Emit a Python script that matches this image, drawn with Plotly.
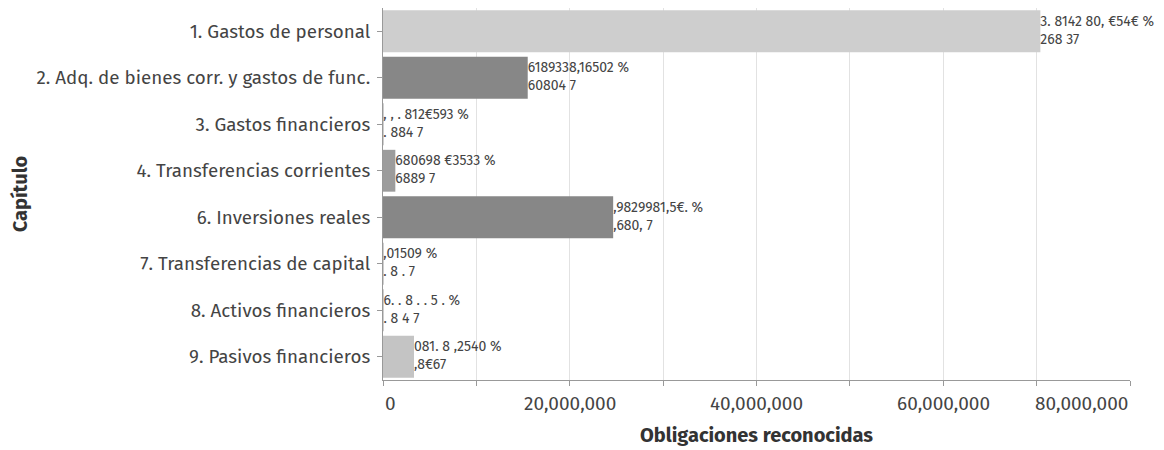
import plotly.graph_objects as go

categories = [
    "1. Gastos de personal",
    "2. Adq. de bienes corr. y gastos de func.",
    "3. Gastos financieros",
    "4. Transferencias corrientes",
    "6. Inversiones reales",
    "7. Transferencias de capital",
    "8. Activos financieros",
    "9. Pasivos financieros",
]
obligaciones = [70400000, 15500000, 40000, 1320000, 24650000, 20000, 60000, 3320000]
label_line1 = [
    "3. 8142 80, €54€ %",
    "6189338,16502 %",
    ", , . 812€593 %",
    "680698 €3533 %",
    ",9829981,5€. %",
    ",01509 %",
    "6. . 8 . . 5 . %",
    "081. 8 ,2540 %",
]
label_line2 = ["268 37", "60804 7", ". 884 7", "6889 7", ",680, 7", ". 8 . 7", ". 8 4 7", ",8€67"]
bar_colors = ["#cecece", "#878787", "#cecece", "#9c9c9c", "#878787", "#cecece", "#cecece", "#c4c4c4"]
tick_values = [0, 10000000, 20000000, 30000000, 40000000, 50000000, 60000000, 70000000, 80000000]
tick_labels = ["0", "", "20,000,000", "", "40,000,000", "", "60,000,000", "", "80,000,000"]

FONT = "Fira Sans, Open Sans, sans-serif"

fig = go.Figure()
fig.add_trace(go.Bar(
    y=categories, x=obligaciones, orientation="h",
    marker=dict(color=bar_colors, line=dict(width=0)),
    width=0.9, hoverinfo="skip", showlegend=False,
))
fig.add_trace(go.Scatter(
    y=categories, x=obligaciones, mode="text",
    text=[a + "<br>" + b for a, b in zip(label_line1, label_line2)],
    textposition="middle right",
    textfont=dict(family=FONT, size=14, color="#444444"),
    hoverinfo="skip", showlegend=False, cliponaxis=False,
))

annotations = []
n = len(tick_values)
for i, (v, t) in enumerate(zip(tick_values, tick_labels)):
    if not t:
        continue
    anchor = "left" if i == 0 else ("right" if i == n - 1 else "center")
    annotations.append(dict(
        x=v, xref="x", y=0, yref="paper", yanchor="top", yshift=-10,
        xanchor=anchor, text=t, showarrow=False,
        font=dict(family=FONT, size=19, color="#444444"),
    ))

fig.update_layout(
    width=1156, height=442,
    margin=dict(l=375, r=34, t=0, b=70),
    paper_bgcolor="white", plot_bgcolor="white",
    font=dict(family=FONT, color="#444444"),
    annotations=annotations,
)
fig.update_xaxes(
    range=[0, 80000000],
    tickvals=tick_values, ticktext=tick_labels, showticklabels=False,
    ticks="outside", ticklen=5, tickcolor="#999999",
    showgrid=True, gridcolor="#e2e2e2", gridwidth=1,
    showline=True, linecolor="#999999", linewidth=1,
    zeroline=False,
    title=dict(text="<b>Obligaciones reconocidas</b>", font=dict(family=FONT, size=20, color="#333333"), standoff=42),
)
fig.update_yaxes(
    autorange="reversed",
    ticks="outside", ticklen=5, tickcolor="#999999",
    showline=True, linecolor="#999999", linewidth=1,
    showgrid=False,
    tickfont=dict(family=FONT, size=18.8, color="#444444"),
    ticklabelstandoff=3,
    title=dict(text="<b>Capítulo</b>", font=dict(family=FONT, size=20, color="#333333"), standoff=4),
)

fig.write_html("out.html")
